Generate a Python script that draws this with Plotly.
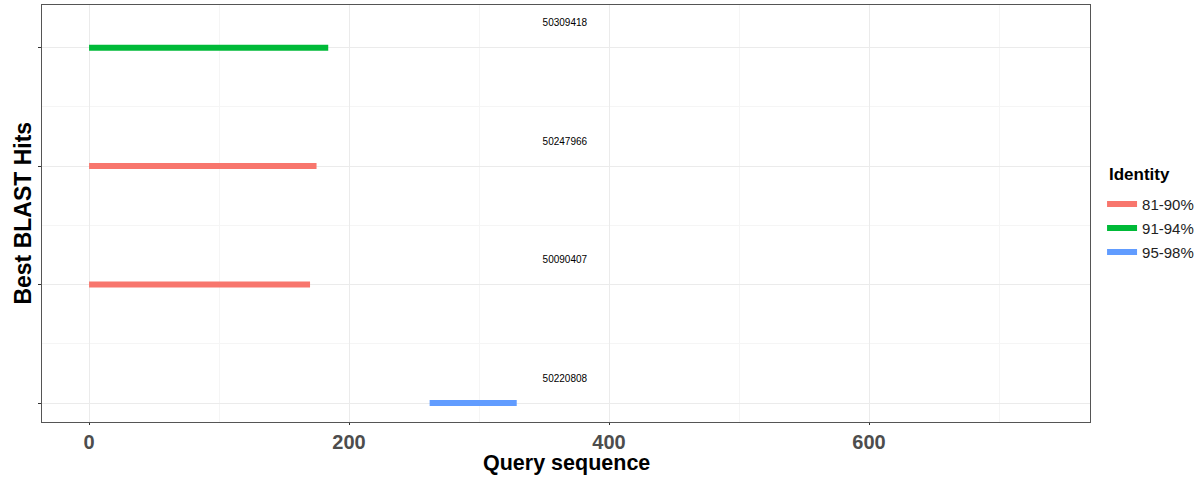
import plotly.graph_objects as go

# Data
hit_ids = ["50220808", "50090407", "50247966", "50309418"]   # bottom -> top
hit_pos = [1, 2, 3, 4]
q_start = [262, 0, 0, 0]
q_end = [329, 170, 175, 184]
identity = ["95-98%", "81-90%", "81-90%", "91-94%"]
label_x = [366, 366, 366, 366]

groups = ["81-90%", "91-94%", "95-98%"]
colors = {"81-90%": "#F8766D", "91-94%": "#00BA38", "95-98%": "#619CFF"}

x_ticks = [0, 200, 400, 600]

fig = go.Figure()
shown = set()
for g in groups:
    for i in range(len(hit_ids)):
        if identity[i] != g:
            continue
        fig.add_trace(go.Scatter(
            x=[q_start[i], q_end[i]], y=[hit_pos[i], hit_pos[i]],
            mode="lines", line=dict(color=colors[g], width=6),
            name=g, legendgroup=g, showlegend=g not in shown,
            hoverinfo="skip"))
        shown.add(g)

fig.add_trace(go.Scatter(
    x=label_x, y=[p + 0.2 for p in hit_pos], mode="text", text=hit_ids,
    textfont=dict(size=10, color="black", family="Liberation Sans, Arial"),
    showlegend=False, hoverinfo="skip"))

grid_major = "#ebebeb"
grid_minor = "#f5f5f5"

fig.update_layout(
    width=1204, height=477,
    margin=dict(l=42, r=114, t=5, b=55, autoexpand=False),
    paper_bgcolor="white", plot_bgcolor="white",
    font=dict(family="Liberation Sans, Arial", color="black"),
    legend=dict(
        x=1.0115, xanchor="left", y=0.562, yanchor="top",
        font=dict(size=15, color="#222"),
        tracegroupgap=1.5, itemwidth=30),
    xaxis=dict(
        range=[-36.2, 770], tickvals=x_ticks,
        ticktext=[f"<b>{v}</b>" for v in x_ticks],
        tickfont=dict(size=20, color="#4d4d4d"),
        automargin=False,
        showgrid=True, gridcolor=grid_major, gridwidth=1,
        minor=dict(tick0=0, dtick=100, showgrid=True, gridcolor=grid_minor, gridwidth=1),
        zeroline=False, showline=True, linecolor="#555555", linewidth=1, mirror=True,
        ticks="outside", ticklen=2, tickcolor="#333333"),
    yaxis=dict(
        range=[0.84, 4.36], tickvals=hit_pos, ticktext=[""] * len(hit_pos),
        automargin=False,
        showgrid=True, gridcolor=grid_major, gridwidth=1,
        minor=dict(tick0=0.5, dtick=1, showgrid=True, gridcolor=grid_minor, gridwidth=1),
        zeroline=False, showline=True, linecolor="#555555", linewidth=1, mirror=True,
        ticks="outside", ticklen=3, tickcolor="#333333"),
    annotations=[
        dict(text="<b>Query sequence</b>", xref="paper", yref="paper",
             x=0.5, y=-0.1295, xanchor="center", yanchor="bottom", borderpad=0,
             showarrow=False, font=dict(size=21.5, color="black")),
        dict(text="<b>Best BLAST Hits</b>", xref="paper", yref="paper",
             x=-0.019, y=0.5, xanchor="center", yanchor="middle", textangle=-90,
             showarrow=False, font=dict(size=23, color="black")),
        dict(text="<b>Identity</b>", xref="paper", yref="paper",
             x=1.0162, y=0.593, xanchor="left", yanchor="middle",
             showarrow=False, font=dict(size=17, color="black")),
    ],
)

fig.write_html("out.html", config={"displayModeBar": False},
               post_script="document.body.style.margin='0';")
